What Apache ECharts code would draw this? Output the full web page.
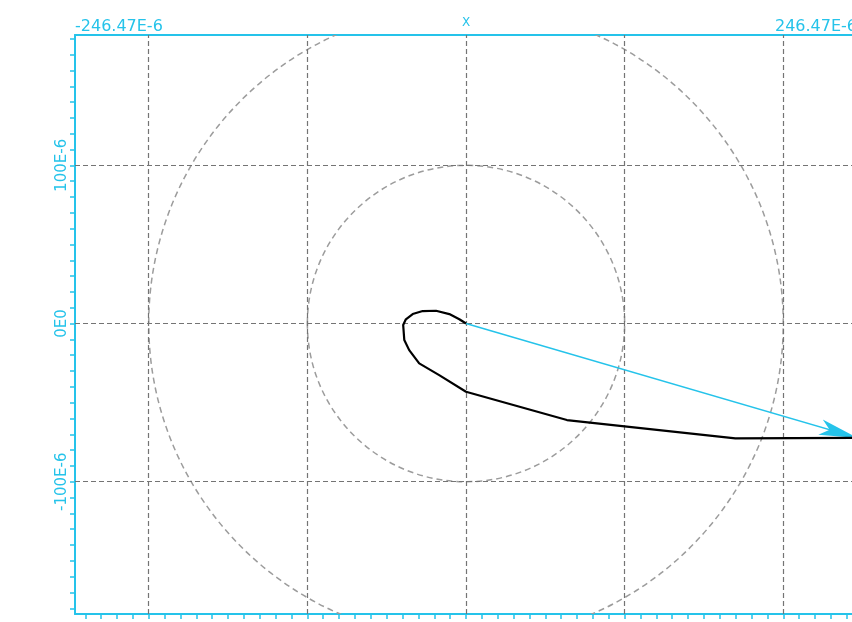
<!DOCTYPE html>
<html>
<head>
<meta charset="utf-8">
<title>X locus</title>
<script src="https://cdn.jsdelivr.net/npm/echarts@6/dist/echarts.min.js"></script>
<style>
  html, body { margin: 0; padding: 0; background: #fff; }
  #chart { width: 852px; height: 622px; }
</style>
</head>
<body>
<div id="chart"></div>
<script>
// Values are in units of 1E-6.
var xRange = [-246.47, 246.47];
var yRange = [-183.6, 182.4];

// Locus of the complex value (real, imaginary)
var locusX = [0, -4.2, -10.5, -18.9, -27.3, -33.6, -37.9, -39.6, -38.9, -35.8, -29.5, -16.9, 0, 63.6, 169.8, 246.47];
var locusY = [0, 2.7, 6.0, 8.1, 7.9, 6.0, 2.7, -0.9, -10.4, -16.8, -25.2, -32.6, -43.1, -61.0, -72.6, -72.2];

// Phasor arrow from the origin to the final point
var arrowStart = [0, 0];
var arrowEnd = [246.47, -72.2];

// Reference circles (radius) and grid positions
var circleRadii = [100, 200];
var gridX = [-200, -100, 0, 100, 200];
var gridY = [-100, 0, 100];

// Axis ticks and labels
var tickX = [];
for (var t = -240; t <= 240; t += 10) tickX.push(t);
var tickY = [];
for (var s = -180; s <= 180; s += 10) tickY.push(s);
var labelY = [-100, 0, 100];
var labelTop = [-246.47, 246.47];
var axisName = 'X';

var CYAN = '#25c3ea';
var FONT = 'DejaVu Sans';

function fmtE(v) {
  if (v === 0) return '0E0';
  return (Math.round(v * 100) / 100) + 'E-6';
}

var locusData = locusX.map(function (x, i) { return [x, locusY[i]]; });
var circleData = circleRadii.map(function (r) { return [0, 0, r]; });

var chart = echarts.init(document.getElementById('chart'), null, { renderer: 'canvas' });

chart.setOption({
  animation: false,
  grid: { left: 75, right: -5, top: 35, bottom: 8, containLabel: false, outerBoundsMode: 'none' },
  xAxis: [
    {
      type: 'value', position: 'bottom', min: xRange[0], max: xRange[1],
      axisLine: { show: true, onZero: false, lineStyle: { color: CYAN, width: 2 } },
      axisTick: { show: true, inside: false, length: 5, customValues: tickX, lineStyle: { color: CYAN, width: 1.5 } },
      axisLabel: { show: false },
      splitLine: { show: false }
    },
    {
      type: 'value', position: 'top', min: xRange[0], max: xRange[1],
      name: axisName, nameLocation: 'middle', nameGap: 6, nameMoveOverlap: false,
      nameTextStyle: { color: CYAN, fontFamily: FONT, fontSize: 12 },
      axisLine: { show: true, onZero: false, lineStyle: { color: CYAN, width: 2 } },
      axisTick: { show: false },
      axisLabel: {
        show: true, customValues: labelTop, formatter: fmtE, margin: 0,
        color: CYAN, fontFamily: FONT, fontSize: 16,
        alignMinLabel: 'left', alignMaxLabel: 'right'
      },
      splitLine: { show: false }
    }
  ],
  yAxis: {
    type: 'value', min: yRange[0], max: yRange[1],
    axisLine: { show: true, onZero: false, lineStyle: { color: CYAN, width: 2 } },
    axisTick: { show: true, inside: false, length: 5, customValues: tickY, lineStyle: { color: CYAN, width: 1.5 } },
    axisLabel: {
      show: true, customValues: labelY, formatter: fmtE, rotate: 90, margin: 5,
      color: CYAN, fontFamily: FONT, fontSize: 15
    },
    splitLine: { show: false }
  },
  series: [
    {
      // dashed grid
      type: 'line', data: [], silent: true,
      markLine: {
        silent: true, symbol: 'none', animation: false,
        label: { show: false },
        lineStyle: { color: '#747474', type: [5, 3], width: 1.2 },
        data: gridX.map(function (v) { return { xAxis: v }; })
          .concat(gridY.map(function (v) { return { yAxis: v }; }))
      }
    },
    {
      // magnitude circles
      type: 'custom', silent: true, data: circleData,
      renderItem: function (params, api) {
        var c = api.coord([api.value(0), api.value(1)]);
        var rx = api.size([api.value(2), 0])[0];
        var ry = api.size([0, api.value(2)])[1];
        var cs = params.coordSys;
        return {
          type: 'group',
          clipPath: { type: 'rect', shape: { x: cs.x, y: cs.y, width: cs.width, height: cs.height } },
          children: [{
            type: 'ellipse',
            shape: { cx: c[0], cy: c[1], rx: rx, ry: ry },
            style: { fill: null, stroke: '#9c9c9c', lineWidth: 1.5, lineDash: [6, 4] }
          }]
        };
      }
    },
    {
      // locus
      type: 'line', data: locusData, showSymbol: false, symbol: 'none',
      smooth: false, clip: true, z: 5,
      lineStyle: { color: '#000', width: 2.2 }
    },
    {
      // phasor arrow
      type: 'line', data: [], silent: true, z: 6,
      markLine: {
        silent: true, animation: false,
        label: { show: false },
        lineStyle: { color: CYAN, type: 'solid', width: 1.5 },
        data: [[
          { coord: arrowStart, symbol: 'none' },
          { coord: arrowEnd, symbol: 'arrow', symbolSize: [12, 38] }
        ]]
      }
    }
  ]
});
</script>
</body>
</html>
